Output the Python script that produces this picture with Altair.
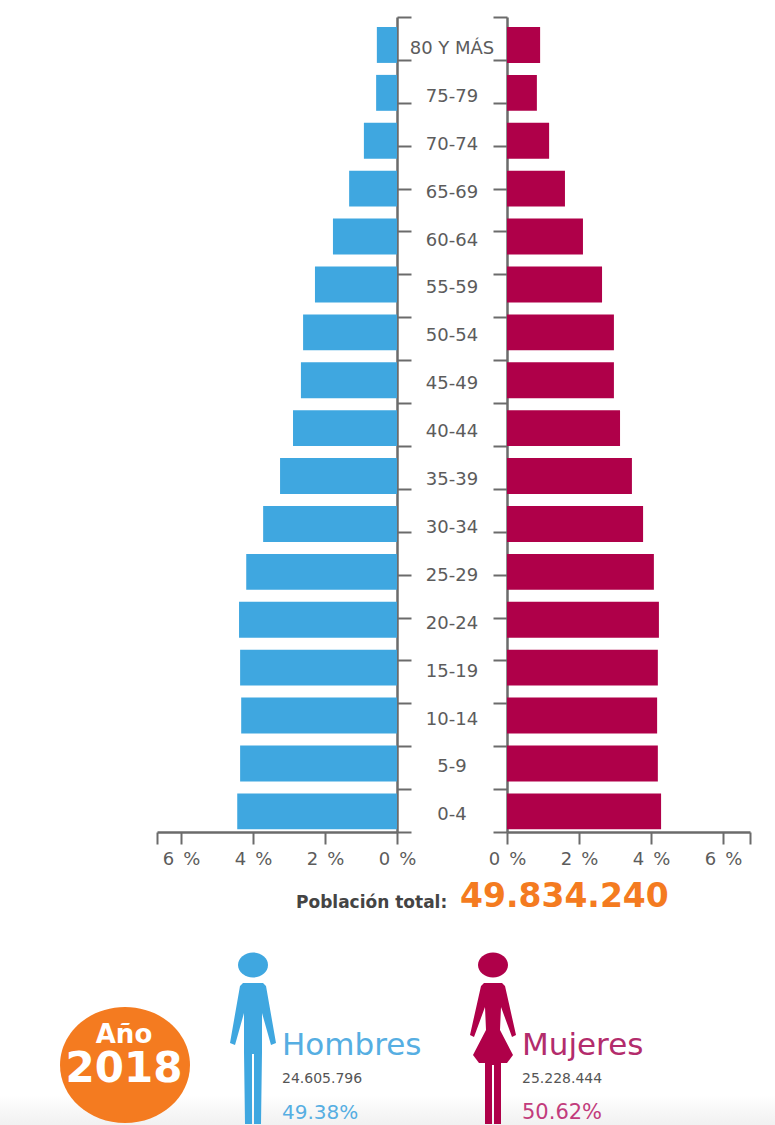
import altair as alt
import pandas as pd

# Population share by age group, 2018 (percent of the total)
age_groups = ["80 Y MÁS", "75-79", "70-74", "65-69", "60-64", "55-59", "50-54", "45-49", "40-44",
              "35-39", "30-34", "25-29", "20-24", "15-19", "10-14", "5-9", "0-4"]
men = [0.56, 0.58, 0.92, 1.33, 1.78, 2.28, 2.61, 2.67, 2.89, 3.25, 3.72, 4.19, 4.39, 4.36, 4.33, 4.36, 4.44]
women = [0.92, 0.83, 1.17, 1.61, 2.11, 2.64, 2.97, 2.97, 3.14, 3.47, 3.78, 4.08, 4.22, 4.19, 4.17, 4.19, 4.28]
pct_ticks_men = [0, 2, 4, 6, 6.67]
pct_ticks_women = [0, 2, 4, 6, 6.75]
spine_ticks = list(range(20))

BLUE = "#3FA7E0"
CRIMSON = "#AF0049"
ORANGE = "#F47B20"
GREY = "#5c5c5c"
AXIS = "#6b6b6b"
FONT = "DejaVu Sans"

W, H = 775, 832
pyramid = pd.DataFrame({"age": age_groups, "men": men, "women": women})

y_band = alt.Scale(domain=age_groups, range=[21, 835.3], paddingInner=0.25, paddingOuter=0.125)
pct_label = "datum.value > 6.1 ? '' : datum.value + '\u2002%'"


def pct_axis(ticks):
    return alt.Axis(orient="bottom", values=ticks, labelExpr=pct_label, title=None, grid=False,
                    tickSize=12, tickWidth=2, tickColor=AXIS, domainColor=AXIS, domainWidth=2.5,
                    labelFont=FONT, labelFontSize=18, labelColor=GREY, labelPadding=15,
                    labelBaseline="middle", labelOverlap=False, labelFlush=False)


def bars(field, color, x_domain_max, x_range, ticks):
    return alt.Chart(pyramid).mark_bar(color=color).encode(
        x=alt.X(f"{field}:Q", scale=alt.Scale(domain=[0, x_domain_max], range=x_range), axis=pct_axis(ticks)),
        y=alt.Y("age:N", scale=y_band, axis=None, sort=age_groups),
    )


def spine(orient, offset):
    return alt.Chart(pd.DataFrame({"tick": spine_ticks})).mark_point(opacity=0).encode(
        x=alt.value(0),
        y=alt.Y("tick:Q", scale=alt.Scale(domain=[0, 19], range=[832, 17]),
                axis=alt.Axis(orient=orient, offset=offset, values=spine_ticks, labels=False, title=None,
                              grid=False, tickSize=14, tickWidth=2, tickColor=AXIS,
                              domainColor=AXIS, domainWidth=2.5)),
    )


def label(text, x, y, size, color, weight="normal", align="left"):
    return alt.Chart(pd.DataFrame({"t": [text]})).mark_text(
        font=FONT, fontSize=size, fontWeight=weight, color=color, align=align, baseline="middle",
    ).encode(text="t:N", x=alt.value(x), y=alt.value(y))


def glyph(path, x, y, color, size=4):
    return alt.Chart(pd.DataFrame({"g": [path]})).mark_point(
        shape=path, filled=True, color=color, opacity=1, size=size, strokeWidth=0,
    ).encode(x=alt.value(x), y=alt.value(y))


age_labels = alt.Chart(pyramid).mark_text(
    font=FONT, fontSize=18, color=GREY, align="center", baseline="middle", dy=4,
).encode(x=alt.value(452), y=alt.Y("age:N", scale=y_band, axis=None, sort=age_groups), text="age:N")

# Pictograms, drawn in pixel units around their anchor point
HEAD = "M-15,0A15,12.5,0,1,1,15,0A15,12.5,0,1,1,-15,0Z"
MAN = ("M-10,-57L10,-57L13,-54L23,3L18,5L9,-27L9,12L8,84L1,84L1,14L-1,14L-1,84L-8,84"
       "L-9,12L-9,-27L-18,5L-23,3L-13,-54Z")
WOMAN = ("M-9,-57L9,-57L12,-54L23,-5L19,-3L8,-33L7,-10L20,15L14,23L8,23L8,84L1,84L1,25L-1,25L-1,84"
         "L-8,84L-8,23L-14,23L-20,15L-7,-10L-8,-33L-19,-3L-23,-5L-12,-54Z")
BADGE = "M-65,0A65,58,0,1,1,65,0A65,58,0,1,1,-65,0Z"

# Soft grey fade along the bottom edge
fade = alt.Chart(pd.DataFrame({"f": [0]})).mark_rect(
    color=alt.Gradient(gradient="linear", x1=0, y1=0, x2=0, y2=1,
                       stops=[alt.GradientStop(offset=0, color="#ffffff"),
                              alt.GradientStop(offset=1, color="#f1f1f1")]),
).encode(x=alt.value(0), x2=alt.value(775), y=alt.value(1095), y2=alt.value(1125))

chart = alt.layer(
    fade,
    bars("men", BLUE, 6.67, [397, 157], pct_ticks_men),
    bars("women", CRIMSON, 6.75, [507, 750], pct_ticks_women),
    spine("right", 397 - W),
    spine("left", -507),
    age_labels,
    label("Población total:", 296, 903, 17, "#444444", "bold"),
    label("49.834.240", 460, 897, 33, ORANGE, "bold"),
    glyph(BADGE, 125, 1065, ORANGE),
    label("Año", 124, 1035, 26, "#ffffff", "bold", "center"),
    label("2018", 124, 1069, 42, "#ffffff", "bold", "center"),
    glyph(HEAD, 253, 965, BLUE),
    glyph(MAN, 253, 1040, BLUE),
    glyph(HEAD, 493, 965, CRIMSON),
    glyph(WOMAN, 493, 1040, CRIMSON),
    label("Hombres", 282, 1046, 31, "#56AEE2"),
    label("24.605.796", 282, 1079, 14, "#555555"),
    label("49.38%", 282, 1113, 20, "#56AEE2"),
    label("Mujeres", 522, 1046, 31, "#B32C6C"),
    label("25.228.444", 522, 1079, 14, "#555555"),
    label("50.62%", 522, 1113, 21, "#C23C7C"),
).resolve_scale(x="independent", y="independent").properties(
    width=W, height=H, padding={"left": 0, "top": 0, "right": 0, "bottom": 293},
    autosize=alt.AutoSizeParams(type="none"), background="white",
).configure_view(stroke=None)

chart.save("out.html", embed_options={"renderer": "svg", "actions": False})
